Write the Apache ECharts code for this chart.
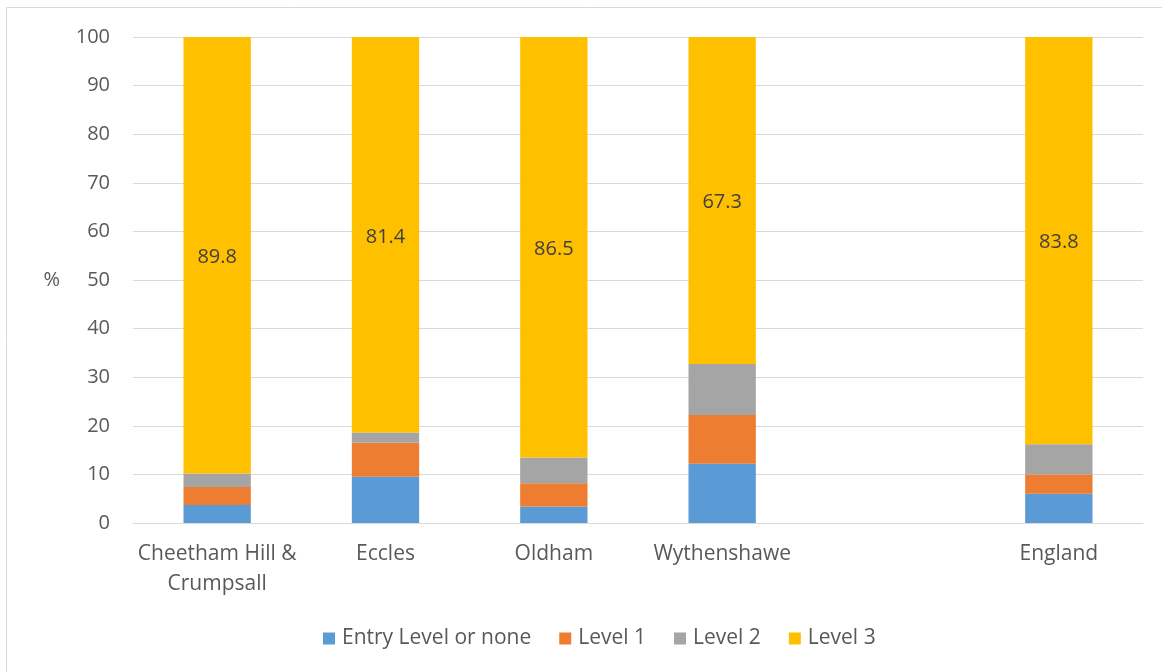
<!DOCTYPE html>
<html>
<head>
<meta charset="utf-8">
<script src="https://cdn.jsdelivr.net/npm/echarts@6/dist/echarts.min.js"></script>
<style>
  html, body { margin: 0; padding: 0; background: #fff; }
  #main { width: 1162px; height: 672px; }
</style>
</head>
<body>
<div id="main"></div>
<script>
// categories (empty slot keeps the gap before England)
var areas = ['Cheetham Hill &\nCrumpsall', 'Eccles', 'Oldham', 'Wythenshawe', '', 'England'];
var entryLevel = [3.7, 9.5, 3.4, 12.2, null, 6.0];
var level1 = [3.7, 7.0, 4.8, 10.0, null, 4.0];
var level2 = [2.8, 2.1, 5.3, 10.5, null, 6.2];
var level3 = [89.8, 81.4, 86.5, 67.3, null, 83.8];

var chartDom = document.getElementById('main');
var myChart = echarts.init(chartDom);
var font = 'Open Sans';

function seg(name, data, color, showLabel) {
    return {
        name: name,
        type: 'bar',
        stack: 'total',
        barWidth: '40%',
        data: data,
        itemStyle: { color: color },
        label: {
            show: showLabel,
            position: 'inside',
            color: '#404040',
            fontSize: 20,
            fontFamily: font,
            offset: [0, 2]
        },
        emphasis: { disabled: true }
    };
}

var option = {
    animation: false,
    textStyle: { fontFamily: font },
    graphic: [{
        type: 'rect',
        shape: { x: 6.5, y: 7.5, width: 1170, height: 680 },
        style: { fill: 'none', stroke: '#d9d9d9', lineWidth: 1 },
        silent: true
    }],
    grid: { left: 133, right: 19, top: 37, bottom: 149, containLabel: false },
    legend: {
        bottom: 18,
        left: 318,
        itemWidth: 12,
        itemHeight: 12,
        itemGap: 28,
        icon: 'rect',
        textStyle: { color: '#595959', fontSize: 21, fontFamily: font, padding: [0, 0, 0, 2] }
    },
    xAxis: {
        type: 'category',
        data: areas,
        axisLine: { lineStyle: { color: '#d9d9d9', width: 1 } },
        axisTick: { show: false },
        axisLabel: {
            color: '#595959',
            fontSize: 21,
            fontFamily: font,
            margin: 16,
            lineHeight: 30,
            interval: 0
        }
    },
    yAxis: {
        type: 'value',
        min: 0,
        max: 100,
        interval: 10,
        name: '%',
        nameLocation: 'middle',
        nameGap: 73,
        nameRotate: 0,
        nameTextStyle: { color: '#595959', fontSize: 20, fontFamily: font },
        axisLine: { show: false },
        axisTick: { show: false },
        axisLabel: { color: '#595959', fontSize: 20, fontFamily: font, margin: 23 },
        splitLine: { lineStyle: { color: '#d9d9d9', width: 1 } }
    },
    series: [
        seg('Entry Level or none', entryLevel, '#5b9bd5', false),
        seg('Level 1', level1, '#ed7d31', false),
        seg('Level 2', level2, '#a5a5a5', false),
        seg('Level 3', level3, '#ffc000', true)
    ]
};

option && myChart.setOption(option);
</script>
</body>
</html>
